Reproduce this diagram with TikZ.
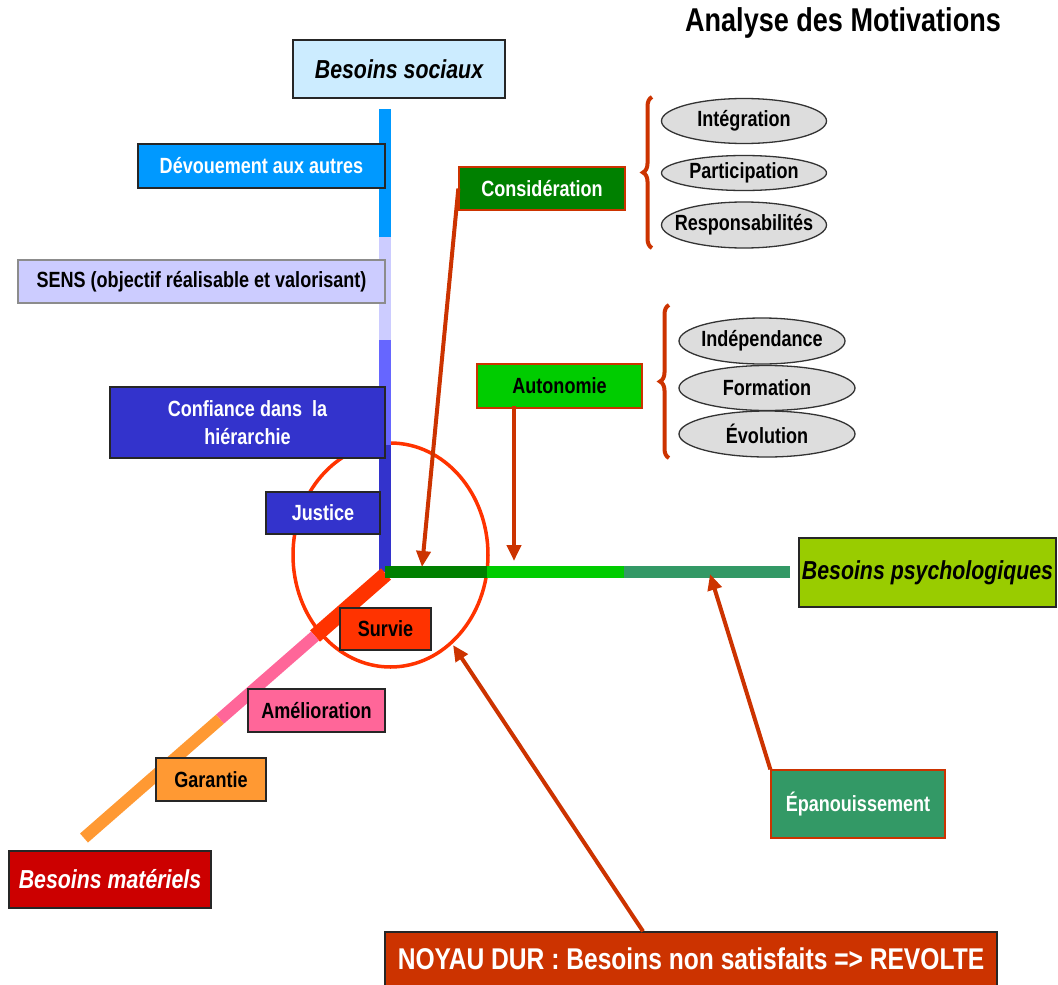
\documentclass[tikz,border=0pt]{standalone}
\usepackage{fontspec}
\setmainfont{Liberation Sans}[FakeStretch=0.82]
\usetikzlibrary{arrows.meta,decorations.pathreplacing,calc,shapes.geometric}
\definecolor{cSoc}{HTML}{CCECFF}
\definecolor{cDev}{HTML}{0099FF}
\definecolor{cSens}{HTML}{CCCCFF}
\definecolor{cMid}{HTML}{6666FF}
\definecolor{cConf}{HTML}{3333CC}
\definecolor{cCons}{HTML}{008000}
\definecolor{cAuto}{HTML}{00CC00}
\definecolor{cEpa}{HTML}{339966}
\definecolor{cPsy}{HTML}{99CC00}
\definecolor{cSurv}{HTML}{FF3300}
\definecolor{cAmel}{HTML}{FF6699}
\definecolor{cGar}{HTML}{FF9933}
\definecolor{cMat}{HTML}{CC0000}
\definecolor{cArr}{HTML}{CC3300}
\definecolor{cOval}{HTML}{DDDDDD}
\newcommand{\ovaltext}[1]{\makebox[0pt]{#1}}
\begin{document}
\begin{tikzpicture}[x=1pt,y=-1pt,
  box/.style={rectangle, draw=black!85, line width=1.3pt, inner sep=0pt, align=center,
    font=\fontsize{22}{28}\selectfont\bfseries},
  bigbox/.style={box, font=\fontsize{26}{30}\selectfont\bfseries\itshape},
  oval/.style={ellipse, draw=black!80, line width=1.3pt, fill=cOval, inner sep=0pt,
    font=\fontsize{22}{24}\selectfont\bfseries},
  arr/.style={draw=cArr, line width=4pt, -{Triangle[length=16pt,width=14pt]}},
  brc/.style={draw=cArr, line width=4pt, decorate, decoration={brace, amplitude=9pt}},
  axis/.style={line width=12pt}]
\useasboundingbox (0,0) rectangle (1058,985);

% title
\node[font=\fontsize{33}{36}\selectfont\bfseries] (title) at (843,23) {Analyse des Motivations};

% circle
\draw[cSurv, line width=3.5pt] (390.5,555) ellipse [x radius=97.5, y radius=112];

% axes
\draw[axis, cDev] (385,109) -- (385,237);
\draw[axis, cSens] (385,237) -- (385,340);
\draw[axis, cMid] (385,340) -- (385,445);
\draw[axis, cConf] (385,445) -- (385,572);
\coordinate (O) at (386,574);
\coordinate (E) at (84,838);
\draw[line width=15pt, cSurv] (O) -- ($(O)!0.235!(E)$);
\draw[axis, cAmel] ($(O)!0.235!(E)$) -- ($(O)!0.55!(E)$);
\draw[axis, cGar] ($(O)!0.55!(E)$) -- (E);
\draw[axis, cCons] (385,572) -- (487,572);
\draw[axis, cAuto] (487,572) -- (624,572);
\draw[axis, cEpa] (624,572) -- (790,572);

% boxes
\node[bigbox, fill=cSoc, minimum width=212, minimum height=58] (soc) at (399,69) {Besoins sociaux};
\node[box, fill=cDev, text=white, minimum width=247, minimum height=44] (dev) at (261.5,166) {Dévouement aux autres};
\node[box, fill=cSens, draw=black!45, minimum width=367, minimum height=43] (sens) at (201.5,281.5) {SENS (objectif réalisable et valorisant)};
\node[box, fill=cConf, text=white, minimum width=275, minimum height=71] (conf) at (247.5,422.5) {Confiance dans~ la\\hiérarchie};
\node[box, fill=cConf, text=white, minimum width=114, minimum height=42] (just) at (323,513) {Justice};
\node[box, fill=cCons, draw=cArr, text=white, minimum width=166, minimum height=43] (cons) at (542,188.5) {Considération};
\node[box, fill=cAuto, draw=cArr, minimum width=165, minimum height=44] (auto) at (559.5,386) {Autonomie};
\node[bigbox, fill=cPsy, minimum width=257, minimum height=69] (psy) at (927.5,572.5) {Besoins psychologiques};
\node[box, fill=cSurv, minimum width=91, minimum height=42] (surv) at (385.5,629) {Survie};
\node[box, fill=cAmel, minimum width=137, minimum height=43] (amel) at (316.5,710.5) {Amélioration};
\node[box, fill=cGar, minimum width=110, minimum height=43] (gar) at (211,779.5) {Garantie};
\node[bigbox, fill=cMat, text=white, minimum width=202, minimum height=57] (mat) at (110,879.5) {Besoins matériels};
\node[box, fill=cEpa, draw=cArr, text=white, minimum width=174, minimum height=68] (epa) at (858,804) {Épanouissement};
\node[box, fill=cArr, text=white, minimum width=612, minimum height=54, font=\fontsize{30}{32}\selectfont\bfseries] (noyau) at (691,959) {NOYAU DUR : Besoins non satisfaits => REVOLTE};

% ovals
\node[oval, minimum width=165, minimum height=45] (integ) at (744,121) {\ovaltext{Intégration}};
\node[oval, minimum width=165, minimum height=35] (part) at (744,173) {\ovaltext{Participation}};
\node[oval, minimum width=165, minimum height=46] (resp) at (744,225) {\ovaltext{Responsabilités}};
\node[oval, minimum width=166, minimum height=46] (indep) at (762,341) {\ovaltext{Indépendance}};
\node[oval, minimum width=176, minimum height=45] (form) at (767,388) {\ovaltext{Formation}};
\node[oval, minimum width=176, minimum height=46] (evol) at (767,434) {\ovaltext{Évolution}};

% braces
\coordinate (b1a) at (652,248);
\coordinate (b1b) at (652,97);
\coordinate (b2a) at (669,458);
\coordinate (b2b) at (669,305);
\draw[brc] (b1a) -- (b1b);
\draw[brc] (b2a) -- (b2b);

% arrows
\coordinate (c1) at (422,567);
\coordinate (c2) at (514,561);
\coordinate (c3) at (710,574);
\coordinate (c4) at (453,645);
\draw[arr] (cons.west) -- (c1);
\draw[arr] ([yshift=3pt]auto.south -| c2) -- (c2);
\draw[arr] (epa.north west) -- (c3);
\draw[arr] ([xshift=-48pt]noyau.north) -- (c4);
\end{tikzpicture}
\end{document}
